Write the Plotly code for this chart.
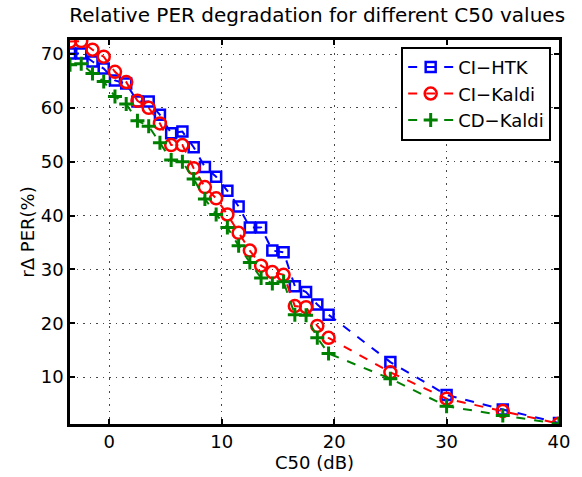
import plotly.graph_objects as go

c50 = [-3.5, -2.5, -1.5, -0.5, 0.5, 1.5, 2.5, 3.5, 4.5, 5.5, 6.5, 7.5, 8.5, 9.5,
       10.5, 11.5, 12.5, 13.5, 14.5, 15.5, 16.5, 17.5, 18.5, 19.5, 25, 30, 35, 40]
ci_htk = [70.1, 70.1, 68.6, 67.3, 65.1, 64.5, 61.2, 61.2, 58.7, 55.3, 55.6, 52.7, 49.0, 47.2,
          44.6, 41.7, 37.8, 37.8, 33.5, 33.2, 26.9, 25.8, 23.5, 21.6, 12.8, 6.7, 4.0, 1.5]
ci_kaldi = [72.3, 72.4, 70.8, 69.5, 66.7, 64.8, 61.3, 60.0, 57.1, 53.1, 53.1, 48.8, 45.3, 43.2,
            40.2, 36.8, 33.5, 30.7, 29.5, 29.0, 23.2, 23.0, 19.5, 17.3, 10.9, 6.0, 3.7, 1.35]
cd_kaldi = [68.0, 68.2, 66.4, 64.9, 62.1, 60.7, 57.6, 56.6, 53.5, 50.3, 50.0, 46.8, 43.1, 40.2,
            37.8, 34.4, 31.3, 28.4, 27.4, 27.7, 21.6, 21.5, 17.3, 14.4, 9.7, 4.6, 2.9, 1.3]
x_ticks = [0, 10, 20, 30, 40]
y_ticks = [10, 20, 30, 40, 50, 60, 70]

FONT = "DejaVu Sans"

fig = go.Figure()
fig.add_trace(go.Scatter(x=c50, y=ci_htk, name="CI\u2212HTK", mode="lines+markers",
                         line=dict(color="rgb(0,0,255)", width=2, dash="dash"),
                         marker=dict(symbol="square-open", size=10, color="rgb(0,0,255)",
                                     line=dict(width=2.5))))
fig.add_trace(go.Scatter(x=c50, y=ci_kaldi, name="CI\u2212Kaldi", mode="lines+markers",
                         line=dict(color="rgb(255,0,0)", width=2, dash="dash"),
                         marker=dict(symbol="circle-open", size=12, color="rgb(255,0,0)",
                                     line=dict(width=2.5))))
fig.add_trace(go.Scatter(x=c50, y=cd_kaldi, name="CD\u2212Kaldi", mode="lines+markers",
                         line=dict(color="rgb(0,128,0)", width=2, dash="dash"),
                         marker=dict(symbol="cross-thin-open", size=10, color="rgb(0,128,0)",
                                     line=dict(width=3, color="rgb(0,128,0)"))))

axis_common = dict(showline=True, linecolor="black", linewidth=2.5, mirror="ticks",
                   ticks="inside", ticklen=5, tickwidth=2, tickcolor="black",
                   showgrid=True, gridcolor="rgb(70,70,70)", gridwidth=1, griddash="1.5px,5px",
                   zeroline=False, tickfont=dict(family=FONT, size=18, color="black"))

fig.update_layout(
    width=582, height=477,
    margin=dict(l=70, r=17, t=40, b=51),
    paper_bgcolor="white", plot_bgcolor="white",
    title=dict(text="Relative PER degradation for different C50 values", x=0.545, xanchor="center",
               y=0.968, yanchor="middle",
               font=dict(family=FONT, size=20, color="black")),
    xaxis=dict(range=[-3.5, 40], tickvals=x_ticks,
               title=dict(text="C50 (dB)", standoff=0,
                          font=dict(family=FONT, size=18, color="black")),
               **axis_common),
    yaxis=dict(range=[1.3, 72.6], tickvals=y_ticks,
               title=dict(text="r\u0394 PER(%)", standoff=2,
                          font=dict(family=FONT, size=18, color="black")),
               **axis_common),
    legend=dict(x=0.984, y=0.982, xanchor="right", yanchor="top",
                bgcolor="white", bordercolor="black", borderwidth=2,
                font=dict(family=FONT, size=18, color="black"),
                itemwidth=45, tracegroupgap=0),
    showlegend=True,
)

fig.write_html("out.html", config={"displayModeBar": False},
               post_script="document.body.style.margin='0';document.body.style.overflow='hidden';")
